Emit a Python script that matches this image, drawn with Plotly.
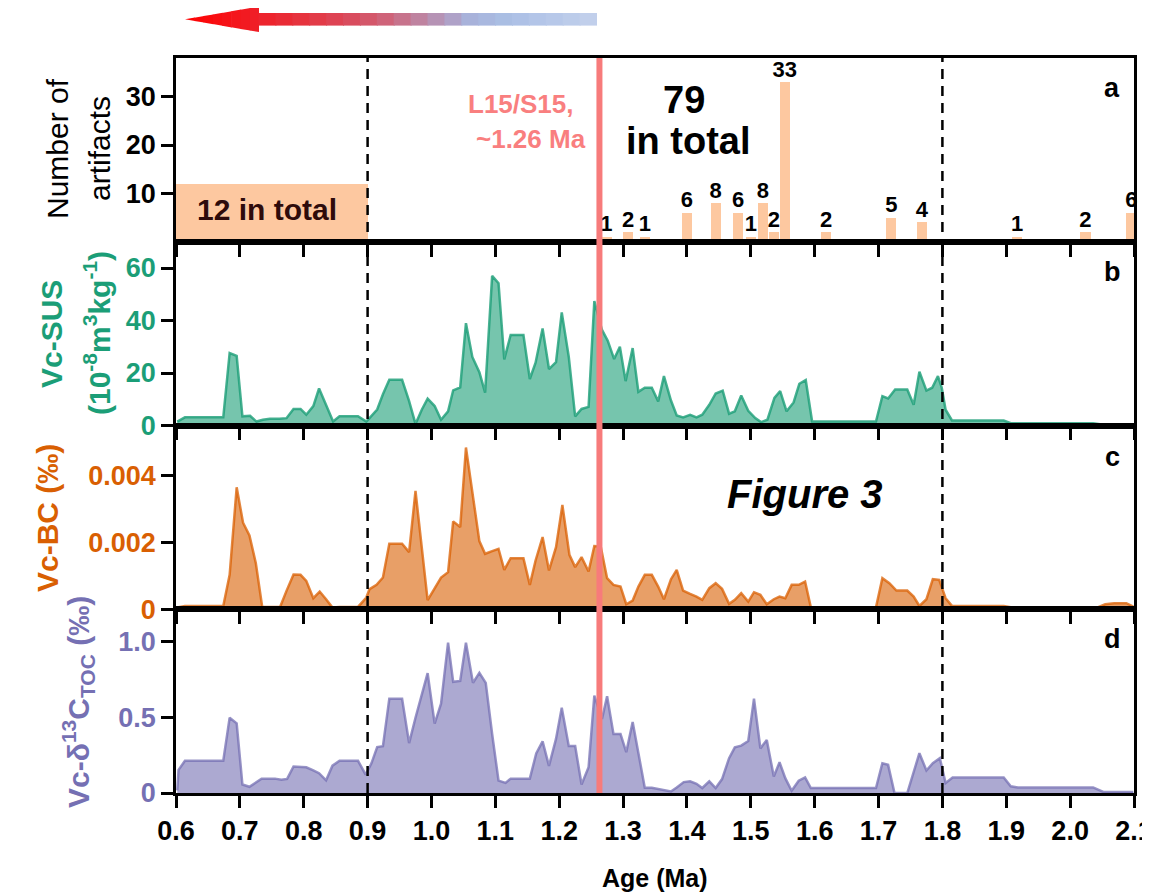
import plotly.graph_objects as go
from plotly.subplots import make_subplots

# ---------------- data ----------------
# Panel a: artifact counts
art_age = [1.274, 1.308, 1.334, 1.400, 1.445, 1.480, 1.500, 1.519, 1.536, 1.553,
           1.618, 1.720, 1.768, 1.917, 2.024, 2.096]
art_count = [1, 2, 1, 6, 8, 6, 1, 8, 2, 33, 2, 5, 4, 1, 2, 6]
early_age = [0.75]          # block covering 0.6-0.9 Ma
early_width = [0.3]
early_count = [12]

# Panel b: Vc-SUS (10^-8 m3 kg-1)
sus_age = [0.602, 0.614, 0.674, 0.684, 0.695, 0.704, 0.716, 0.726, 0.736, 0.747,
           0.762, 0.773, 0.784, 0.795, 0.804, 0.815, 0.824, 0.834, 0.846, 0.856,
           0.885, 0.898, 0.903, 0.915, 0.924, 0.934, 0.954, 0.965, 0.975, 0.985,
           0.994, 1.005, 1.015, 1.026, 1.034, 1.045, 1.054, 1.064, 1.075, 1.084,
           1.095, 1.105, 1.114, 1.124, 1.144, 1.154, 1.163, 1.174, 1.184, 1.195,
           1.204, 1.215, 1.225, 1.235, 1.246, 1.255, 1.267, 1.276, 1.286, 1.295,
           1.304, 1.315, 1.324, 1.334, 1.345, 1.355, 1.364, 1.375, 1.384, 1.394,
           1.405, 1.415, 1.424, 1.435, 1.445, 1.456, 1.466, 1.475, 1.485, 1.496,
           1.507, 1.516, 1.526, 1.537, 1.546, 1.556, 1.567, 1.576, 1.586, 1.596,
           1.696, 1.706, 1.715, 1.726, 1.745, 1.755, 1.764, 1.775, 1.784, 1.793,
           1.799, 1.805, 1.815, 1.896, 1.907, 2.036, 2.052, 2.099]
sus_val = [1.5, 3.1, 3.1, 27.6, 26.5, 3.5, 3.7, 1.5, 2.2, 2.6,
           2.6, 2.8, 6.3, 6.3, 4.1, 7.4, 14.1, 8.4, 1.5, 3.5,
           3.5, 1.5, 2.8, 6.1, 11.9, 17.4, 17.4, 9.3, 0.6, 6.1,
           10.2, 7.4, 2.2, 5.4, 13.4, 14.5, 39.0, 26.1, 20.3, 12.5,
           57.0, 54.2, 25.2, 34.5, 34.5, 17.7, 23.9, 37.0, 21.5, 24.1,
           43.1, 26.1, 3.5, 6.3, 7.1, 47.4, 36.4, 32.3, 25.3, 30.0,
           16.9, 29.5, 12.8, 14.4, 14.4, 9.2, 18.8, 9.5, 3.8, 3.1,
           4.1, 3.1, 4.1, 7.9, 12.2, 13.3, 4.5, 5.4, 11.4, 5.6,
           2.8, 1.3, 2.2, 10.5, 13.1, 5.4, 8.8, 15.9, 17.3, 1.5,
           1.5, 11.2, 10.3, 13.7, 13.7, 7.9, 20.5, 13.3, 14.4, 18.8,
           14.4, 6.0, 1.9, 1.9, 0.9, 0.9, 0.3, 0.3]

# Panel c: Vc-BC (permil), listed in units of 1e-3 permil
bc_age = [0.602, 0.614, 0.674, 0.684, 0.695, 0.705, 0.715, 0.725, 0.735, 0.763,
          0.773, 0.784, 0.795, 0.804, 0.815, 0.825, 0.835, 0.845, 0.856, 0.885,
          0.898, 0.903, 0.914, 0.924, 0.934, 0.954, 0.965, 0.975, 0.994, 1.005,
          1.015, 1.026, 1.034, 1.045, 1.054, 1.075, 1.084, 1.095, 1.105, 1.114,
          1.124, 1.144, 1.154, 1.163, 1.174, 1.184, 1.195, 1.205, 1.216, 1.225,
          1.235, 1.246, 1.255, 1.265, 1.275, 1.285, 1.296, 1.305, 1.315, 1.324,
          1.334, 1.345, 1.355, 1.364, 1.375, 1.384, 1.394, 1.405, 1.415, 1.424,
          1.435, 1.445, 1.455, 1.466, 1.475, 1.485, 1.496, 1.505, 1.515, 1.525,
          1.536, 1.545, 1.554, 1.564, 1.575, 1.585, 1.594, 1.696, 1.706, 1.717,
          1.728, 1.745, 1.755, 1.764, 1.775, 1.785, 1.795, 1.805, 1.815, 1.896,
          1.907, 2.044, 2.055, 2.069, 2.088, 2.099]
bc_val_e3 = [0.05, 0.10, 0.10, 1.03, 3.65, 2.59, 2.21, 1.38, 0.07, 0.07,
             0.55, 1.04, 1.03, 0.85, 0.33, 0.53, 0.30, 0.05, 0.07, 0.07,
             0.35, 0.60, 0.73, 0.95, 1.96, 1.96, 1.71, 3.54, 0.27, 0.65,
             0.95, 1.11, 2.63, 2.46, 4.84, 2.04, 1.66, 1.74, 1.81, 1.18,
             1.53, 1.53, 0.73, 1.46, 2.16, 1.16, 1.86, 3.12, 1.63, 1.26,
             1.56, 1.13, 1.89, 1.88, 0.93, 0.73, 0.68, 0.15, 0.26, 0.68,
             1.03, 1.03, 0.68, 0.30, 0.90, 1.18, 0.56, 0.46, 0.38, 0.28,
             0.63, 0.78, 0.61, 0.16, 0.28, 0.48, 0.23, 0.51, 0.43, 0.15,
             0.30, 0.38, 0.33, 0.73, 0.73, 0.83, 0.06, 0.06, 0.93, 0.78,
             0.56, 0.56, 0.38, 0.10, 0.30, 0.90, 0.88, 0.33, 0.10, 0.10,
             0.06, 0.06, 0.15, 0.18, 0.18, 0.08]

# Panel d: Vc-d13C_TOC (permil)
toc_age = [0.602, 0.604, 0.614, 0.674, 0.684, 0.695, 0.704, 0.715, 0.734, 0.755,
           0.765, 0.774, 0.784, 0.804, 0.815, 0.824, 0.835, 0.845, 0.856, 0.885,
           0.897, 0.906, 0.915, 0.924, 0.934, 0.954, 0.965, 0.975, 0.994, 1.005,
           1.015, 1.026, 1.034, 1.045, 1.054, 1.065, 1.075, 1.085, 1.095, 1.105,
           1.116, 1.124, 1.154, 1.164, 1.174, 1.184, 1.195, 1.204, 1.215, 1.225,
           1.235, 1.246, 1.255, 1.267, 1.275, 1.285, 1.296, 1.305, 1.315, 1.324,
           1.334, 1.345, 1.375, 1.384, 1.395, 1.405, 1.415, 1.424, 1.435, 1.445,
           1.455, 1.466, 1.475, 1.485, 1.496, 1.505, 1.515, 1.525, 1.536, 1.545,
           1.554, 1.564, 1.575, 1.585, 1.594, 1.696, 1.706, 1.715, 1.725, 1.745,
           1.764, 1.775, 1.785, 1.796, 1.805, 1.816, 1.896, 1.907, 1.918, 2.036,
           2.052, 2.099]
toc_val = [0.017, 0.153, 0.213, 0.213, 0.498, 0.461, 0.056, 0.041, 0.095, 0.095,
           0.088, 0.093, 0.175, 0.170, 0.149, 0.131, 0.084, 0.181, 0.213, 0.213,
           0.121, 0.196, 0.304, 0.310, 0.623, 0.623, 0.330, 0.498, 0.793, 0.459,
           0.591, 0.994, 0.735, 0.741, 0.994, 0.728, 0.795, 0.728, 0.390, 0.082,
           0.067, 0.095, 0.095, 0.261, 0.341, 0.179, 0.358, 0.563, 0.310, 0.310,
           0.056, 0.170, 0.644, 0.490, 0.640, 0.390, 0.390, 0.270, 0.470, 0.265,
           0.035, 0.035, 0.010, 0.037, 0.072, 0.077, 0.061, 0.033, 0.077, 0.033,
           0.092, 0.230, 0.302, 0.313, 0.344, 0.624, 0.295, 0.350, 0.109, 0.203,
           0.098, 0.015, 0.081, 0.103, 0.033, 0.033, 0.197, 0.186, 0.000, 0.000,
           0.263, 0.149, 0.197, 0.230, 0.066, 0.103, 0.103, 0.044, 0.037, 0.037,
           0.007, 0.007]

x_ticks = [0.6, 0.7, 0.8, 0.9, 1.0, 1.1, 1.2, 1.3, 1.4, 1.5, 1.6, 1.7, 1.8, 1.9, 2.0, 2.1]
event_age = 1.263
boundary_ages = [0.9, 1.8]

assert len(sus_age) == len(sus_val)
assert len(bc_age) == len(bc_val_e3)
assert len(toc_age) == len(toc_val)
bc_val = [v / 1000.0 for v in bc_val_e3]

# ---------------- styling ----------------
FONT = "Liberation Sans, Arial, sans-serif"
OFF = 8                      # page body margin offset
SW, SH = 1150, 895           # screen size
W, H = SW - OFF, SH - OFF    # figure size
L, R, T, B = 176, 1134, 58, 793   # plot area in screen pixels
GREEN, ORANGE, PURPLE = "#1B9E77", "#D95F02", "#7570B3"
PEACH = "#FDC8A0"


def fx(p):
    return (p - L) / (R - L)


def fy(p):
    return (B - p) / (B - T)


fig = make_subplots(rows=4, cols=1, shared_xaxes=True, vertical_spacing=0)

fig.add_trace(go.Bar(x=early_age, y=early_count, width=early_width,
                     marker=dict(color=PEACH, line=dict(width=0)),
                     showlegend=False, hoverinfo="skip"), row=1, col=1)
fig.add_trace(go.Bar(x=art_age, y=art_count, width=0.016,
                     marker=dict(color=PEACH, line=dict(width=0)),
                     cliponaxis=True, showlegend=False), row=1, col=1)
fig.add_trace(go.Scatter(x=art_age, y=art_count, mode="text",
                         text=[f"<b>{c}</b>" for c in art_count],
                         textposition="top center", cliponaxis=False,
                         textfont=dict(size=22, color="black", family=FONT),
                         showlegend=False, hoverinfo="skip"), row=1, col=1)

fig.add_trace(go.Scatter(x=sus_age, y=sus_val, mode="lines", fill="tozeroy",
                         line=dict(color="rgba(27,158,119,0.8)", width=2.5),
                         fillcolor="rgba(27,158,119,0.6)", showlegend=False),
              row=2, col=1)
fig.add_trace(go.Scatter(x=bc_age, y=bc_val, mode="lines", fill="tozeroy",
                         line=dict(color="rgba(217,95,2,0.75)", width=2.5),
                         fillcolor="rgba(217,95,2,0.6)", showlegend=False),
              row=3, col=1)
fig.add_trace(go.Scatter(x=toc_age, y=toc_val, mode="lines", fill="tozeroy",
                         line=dict(color="rgba(117,112,179,0.75)", width=2.5),
                         fillcolor="rgba(117,112,179,0.6)", showlegend=False),
              row=4, col=1)

# axes
for r in range(1, 5):
    fig.update_xaxes(range=[0.6, 2.1], showline=True, linecolor="black", linewidth=2.5,
                     mirror=True, ticks="outside", ticklen=12, tickwidth=2.5,
                     tickcolor="black", tickvals=x_ticks,
                     ticktext=[f"<b>{t:.1f}</b>" for t in x_ticks],
                     showgrid=False, zeroline=False,
                     showticklabels=(r == 4), ticklabeloverflow="allow",
                     tickfont=dict(size=27, color="black", family=FONT),
                     row=r, col=1)

yspecs = [
    (1, [0, 38], [10, 20, 30], ["10", "20", "30"], "black"),
    (2, [0, 70], [0, 20, 40, 60], ["0", "20", "40", "60"], GREEN),
    (3, [0, 0.0055], [0, 0.002, 0.004], ["0", "0.002", "0.004"], ORANGE),
    (4, [0, 1.215], [0, 0.5, 1.0], ["0", "0.5", "1.0"], PURPLE),
]
for r, rng, tv, tt, col in yspecs:
    fig.update_yaxes(range=rng, showline=True, linecolor="black", linewidth=2.5,
                     mirror=True, ticks="outside", ticklen=12, tickwidth=2.5,
                     tickcolor="black", tickvals=tv, ticktext=[f"<b>{t}</b>" for t in tt],
                     tickfont=dict(size=27, color=col, family=FONT),
                     showgrid=False, zeroline=False, row=r, col=1)

shapes = []
# red event line
shapes.append(dict(type="line", xref="x", yref="paper", x0=event_age, x1=event_age,
                   y0=0, y1=1, line=dict(color="#F77B7B", width=6), layer="above"))
for a in boundary_ages:
    shapes.append(dict(type="line", xref="x", yref="paper", x0=a, x1=a, y0=0, y1=1,
                       line=dict(color="black", width=2.5, dash="10px,7px"), layer="above"))
# purple vertical rule at the far left
shapes.append(dict(type="line", xref="paper", yref="paper", x0=fx(3), x1=fx(3),
                   y0=fy(OFF), y1=fy(SH + 5), line=dict(color="#B574C2", width=5), layer="above"))


# gradient arrow (decoration)
def hex2rgb(h):
    h = h.lstrip("#")
    return [int(h[i:i + 2], 16) for i in (0, 2, 4)]


stops = [(185, "#FF0000"), (259, "#EF2029"), (300, "#E6323D"), (340, "#DD4556"),
         (380, "#D15E72"), (410, "#C47A95"), (440, "#B496B9"), (470, "#A8B2DA"),
         (500, "#A9BDE3"), (550, "#B6C7E9"), (597, "#C4D1EC")]


def col_at(xp):
    for (x0, c0), (x1, c1) in zip(stops[:-1], stops[1:]):
        if x0 <= xp <= x1:
            t = (xp - x0) / (x1 - x0)
            a, b = hex2rgb(c0), hex2rgb(c1)
            return "rgb(%d,%d,%d)" % tuple(round(a[i] + (b[i] - a[i]) * t) for i in range(3))
    return stops[-1][1]


def poly(pts):
    return "M " + " L ".join(f"{fx(px):.5f},{fy(py):.5f}" for px, py in pts) + " Z"


tip_x, base_x, cy, head_half, shaft_half = 185, 259, 19.3, 12.8, 6.3
n_head = 8
for i in range(n_head):
    a = tip_x + (base_x - tip_x) * i / n_head
    b = tip_x + (base_x - tip_x) * (i + 1) / n_head + (0.6 if i < n_head - 1 else 0)
    ha = head_half * (a - tip_x) / (base_x - tip_x)
    hb = head_half * min(b - tip_x, base_x - tip_x) / (base_x - tip_x)
    shapes.append(dict(type="path", xref="paper", yref="paper",
                       path=poly([(a, cy - ha), (b, cy - hb), (b, cy + hb), (a, cy + ha)]),
                       fillcolor=col_at((a + b) / 2), line=dict(width=0), layer="above"))
end_x = 597
n_shaft = 20
for i in range(n_shaft):
    a = base_x + (end_x - base_x) * i / n_shaft - 0.5
    b = base_x + (end_x - base_x) * (i + 1) / n_shaft + (0.5 if i < n_shaft - 1 else 0)
    shapes.append(dict(type="path", xref="paper", yref="paper",
                       path=poly([(a, cy - shaft_half), (b, cy - shaft_half),
                                  (b, cy + shaft_half), (a, cy + shaft_half)]),
                       fillcolor=col_at(min(max((a + b) / 2, base_x), end_x)),
                       line=dict(width=0), layer="above"))

ann = []


def add_text(text, xp, yp, size, color="black", angle=0, xanchor="center", bold=True, italic=False):
    t = text
    if italic:
        t = f"<i>{t}</i>"
    if bold:
        t = f"<b>{t}</b>"
    ann.append(dict(text=t, x=fx(xp), y=fy(yp), xref="paper", yref="paper",
                    xanchor=xanchor, yanchor="middle", showarrow=False, textangle=angle,
                    font=dict(size=size, color=color, family=FONT)))


# y axis titles
add_text("Number of", 57, 149, 30, "black", -90, bold=False)
add_text("artifacts", 99, 149, 30, "black", -90, bold=False)
add_text("Vc-SUS", 52, 334, 30, GREEN, -90)
add_text("(10<sup>-8</sup>m<sup>3</sup>kg<sup>-1</sup>)", 97, 333, 30, GREEN, -90)
add_text("Vc-BC (‰)", 47, 518, 30, ORANGE, -90)
add_text("Vc-δ<sup>13</sup>C<sub>TOC</sub> (‰)", 78, 702, 30, PURPLE, -90)
# x title
add_text("Age (Ma)", 655, 878, 25, "black")
# panel letters
add_text("a", 1112, 88, 27)
add_text("b", 1112, 272, 27)
add_text("c", 1112, 457, 27)
add_text("d", 1112, 639, 27)
# in-panel notes
add_text("12 in total", 267, 210, 30, "#2E0B0B")
add_text("L15/S15,", 576, 104, 26, "#F97F7F", xanchor="right")
add_text("~1.26 Ma", 588, 139, 26, "#F97F7F", xanchor="right")
add_text("79", 684, 100, 38, "black")
add_text("in total", 688, 141, 38, "black")
add_text("Figure 3", 805, 494, 40, "black", italic=True)

fig.update_layout(width=W, height=H, template="none",
                  margin=dict(l=L - OFF, r=SW - R, t=T - OFF, b=SH - B),
                  paper_bgcolor="white", plot_bgcolor="white",
                  font=dict(family=FONT, color="black"),
                  bargap=0, barmode="overlay", showlegend=False,
                  shapes=shapes, annotations=ann)

fig.write_html("out.html")
